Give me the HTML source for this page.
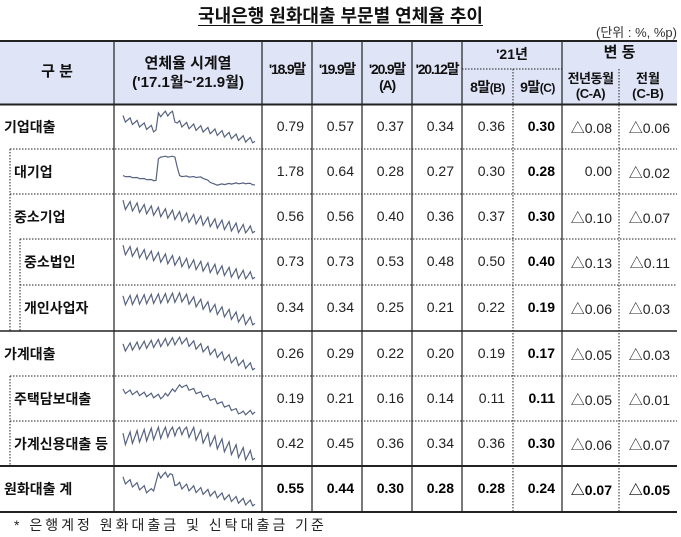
<!DOCTYPE html>
<html><head><meta charset="utf-8"><style>
body{margin:0;width:681px;height:537px;background:#fff;position:relative;overflow:hidden;font-family:"Liberation Sans","Noto Sans CJK KR",sans-serif;color:#111}
.a{position:absolute}
.t{white-space:nowrap}
.num{position:absolute;font-size:14px;text-align:right;white-space:nowrap;color:#222}
.b{font-weight:bold;color:#000}
.lab{position:absolute;font-size:14px;font-weight:bold;white-space:nowrap}
.h{position:absolute;font-size:14px;font-weight:bold;text-align:center;white-space:nowrap;line-height:16px}
</style></head><body>
<div class="a t" style="left:0;width:681px;top:2px;text-align:center;font-size:18px;font-weight:bold;"><span style="text-decoration:underline;text-underline-offset:3px">국내은행 원화대출 부문별 연체율 추이</span></div>
<div class="a t" style="right:4px;top:22px;font-size:13px;color:#333">(단위 : %, %p)</div>
<div class="a" style="left:0;top:41px;width:677px;height:63px;background:#dfe4f6"></div>
<svg class="a" style="left:0;top:0" width="681" height="537" id="g">
<g stroke="#222" fill="none">
<line x1="0" y1="41" x2="677" y2="41" stroke-width="2"/>
<line x1="0" y1="104.5" x2="677" y2="104.5" stroke-width="2"/>
<line x1="0" y1="331" x2="677" y2="331" stroke-width="1.5"/>
<line x1="0" y1="466" x2="677" y2="466" stroke-width="2"/>
<line x1="0" y1="512" x2="677" y2="512" stroke-width="2"/>
<g stroke-width="1.2">
<line x1="114" y1="41" x2="114" y2="512"/><line x1="262" y1="41" x2="262" y2="512"/>
<line x1="312" y1="41" x2="312" y2="512"/><line x1="362" y1="41" x2="362" y2="512"/>
<line x1="412" y1="41" x2="412" y2="512"/><line x1="462" y1="41" x2="462" y2="512"/>
<line x1="562" y1="41" x2="562" y2="512"/></g>
<g stroke-dasharray="1.5,1.5" stroke-width="1">
<line x1="462" y1="69" x2="562" y2="69"/>
<line x1="513" y1="69" x2="513" y2="512"/><line x1="619" y1="69" x2="619" y2="512"/>
<line x1="10" y1="149" x2="677" y2="149"/><line x1="10" y1="194" x2="677" y2="194"/>
<line x1="20" y1="239" x2="677" y2="239"/><line x1="20" y1="285" x2="677" y2="285"/>
<line x1="10" y1="376" x2="677" y2="376"/><line x1="10" y1="421" x2="677" y2="421"/>
<line x1="10" y1="149" x2="10" y2="331"/><line x1="20" y1="239" x2="20" y2="331"/>
<line x1="10" y1="376" x2="10" y2="466"/>
</g></g>
</svg>
<div class="h" style="left:0;width:114px;top:64px;font-size:15px">구 분</div>
<div class="h" style="left:114px;width:148px;top:54px;font-size:15px;line-height:19px">연체율 시계열<br>('17.1월~'21.9월)</div>
<div class="h" style="left:262px;width:50px;top:61px;letter-spacing:-1.2px">'18.9말</div>
<div class="h" style="left:312px;width:50px;top:61px;letter-spacing:-1.2px">'19.9말</div>
<div class="h" style="left:362px;width:50px;top:61px;letter-spacing:-1.2px">'20.9말<br>(A)</div>
<div class="h" style="left:412px;width:50px;top:61px;letter-spacing:-1.2px">'20.12말</div>
<div class="h" style="left:462px;width:100px;top:46px">'21년</div>
<div class="h" style="left:462px;width:51px;top:79px;letter-spacing:-0.5px">8말<span style="font-size:12px">(B)</span></div>
<div class="h" style="left:513px;width:49px;top:79px;letter-spacing:-0.5px">9말<span style="font-size:12px">(C)</span></div>
<div class="h" style="left:562px;width:115px;top:45px;font-size:15px">변 동</div>
<div class="h" style="left:562px;width:57px;top:71px;font-size:13px;line-height:15px;letter-spacing:-0.5px">전년동월<br>(C-A)</div>
<div class="h" style="left:619px;width:58px;top:71px;font-size:13px;line-height:15px">전월<br>(C-B)</div>
<div id="rows"></div>
<div class="a t" style="left:14px;top:515px;font-size:14px;color:#222;letter-spacing:3px">* 은행계정 원화대출금 및 신탁대출금 기준</div>
<script>
var rows=[
["기업대출",4,105,149,["0.79","0.57","0.37","0.34","0.36","0.30","△0.08","△0.06"],0,[[0,.2],[.25,.6],[.27,.05],[.38,0],[.4,.35],[1,1]],.2],
["대기업",14,149,194,["1.78","0.64","0.28","0.27","0.30","0.28","0.00","△0.02"],0,[[0,.65],[.24,.8],[.25,.8],[.27,0],[.4,0],[.42,.65],[.6,.7],[.7,.95],[.85,.9],[.95,.9],[1,.95]],0.03],
["중소기업",14,194,239,["0.56","0.56","0.40","0.36","0.37","0.30","△0.10","△0.07"],0,[[0,.1],[1,1]],.3],
["중소법인",24,239,285,["0.73","0.73","0.53","0.48","0.50","0.40","△0.13","△0.11"],0,[[0,.1],[1,1]],.3],
["개인사업자",24,285,331,["0.34","0.34","0.25","0.21","0.22","0.19","△0.06","△0.03"],0,[[0,.25],[.45,.15],[1,1]],.3],
["가계대출",4,331,376,["0.26","0.29","0.22","0.20","0.19","0.17","△0.05","△0.03"],0,[[0,.3],[.45,.05],[1,1]],.25],
["주택담보대출",14,376,421,["0.19","0.21","0.16","0.14","0.11","0.11","△0.05","△0.01"],0,[[0,.25],[.3,.45],[.45,.05],[.9,1],[1,.95]],.14],
["가계신용대출 등",14,421,466,["0.42","0.45","0.36","0.34","0.36","0.30","△0.06","△0.07"],0,[[0,.35],[.45,0],[1,1]],.4],
["원화대출 계",4,466,512,["0.55","0.44","0.30","0.28","0.28","0.24","△0.07","△0.05"],1,[[0,.2],[.22,.6],[.27,.05],[.36,0],[.4,.35],[1,1]],.2]];
var colR=[304,354,404,454,505,555,612,670];
var h='',svg='<svg class="a" style="left:0;top:0" width="681" height="537">';
function base(k,x){for(var i=0;i<k.length-1;i++){if(x<=k[i+1][0]){var t=(x-k[i][0])/(k[i+1][0]-k[i][0]||1);return k[i][1]+t*(k[i+1][1]-k[i][1]);}}return k[k.length-1][1];}
rows.forEach(function(r){
 var cy=(r[2]+r[3])/2;
 h+='<div class="lab" style="left:'+r[1]+'px;top:'+(cy-10)+'px">'+r[0]+'</div>';
 r[4].forEach(function(v,i){var bold=(i==5)||r[5];h+='<div class="num'+(bold?' b':'')+'" style="right:'+(681-colR[i])+'px;top:'+(cy-9)+'px">'+v+'</div>';});
 var top=r[2]+6,H=r[3]-r[2]-12,pts=[],n=57,amp=r[7];
 for(var j=0;j<n;j++){var x=j/(n-1);var ph=j%3;var z=(ph==0?-0.5:ph==1?0.5:0)*amp;
  var y=base(r[6],x)+z;y=Math.max(-0.05,Math.min(1.05,y));
  pts.push((123+x*132).toFixed(1)+','+(top+y*H*0.9+H*0.05).toFixed(1));}
 svg+='<polyline points="'+pts.join(' ')+'" fill="none" stroke="#56627f" stroke-width="1.2"/>';
});
svg+='</svg>';
document.getElementById('rows').innerHTML=h+svg;
</script>
</body></html>
